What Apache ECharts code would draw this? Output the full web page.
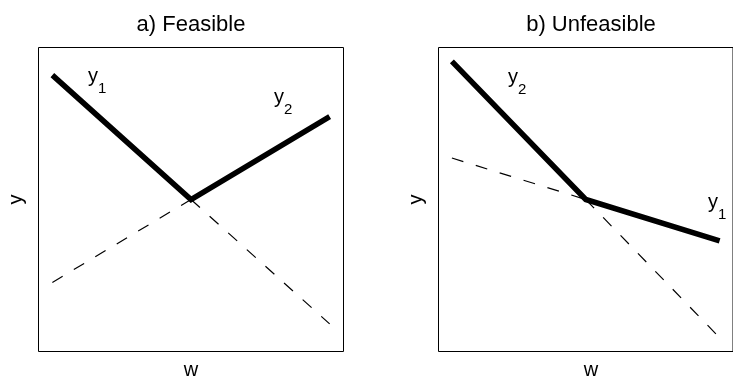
<!DOCTYPE html>
<html>
<head>
<meta charset="utf-8">
<script src="https://cdn.jsdelivr.net/npm/echarts@6/dist/echarts.min.js"></script>
<style>
  html, body { margin: 0; padding: 0; background: #fff; }
  #chart { width: 733px; height: 383px; }
</style>
</head>
<body>
<div id="chart"></div>
<script>
// ---- data ----
const w = [0, 5, 10];
const feasibleY1 = [9.5, 5, 0.5];
const feasibleY2 = [2, 5, 8];
const unfeasibleY1 = [6.5, 5, 3.5];
const unfeasibleY2 = [10, 5, 0];
const panelTitles = ['a) Feasible', 'b) Unfeasible'];
const xAxisLabel = 'w';
const yAxisLabel = 'y';

const FONT = "'Liberation Sans', Arial, Helvetica, sans-serif";
const chart = echarts.init(document.getElementById('chart'), null, { renderer: 'canvas' });

const grids = [
  { left: 38.5, top: 47.5, width: 305, height: 304 },
  { left: 438.5, top: 47.5, width: 305, height: 304 }
];

function panelSeries(idx, y1, y2) {
  const out = [];
  const upper = w.map((x, i) => [x, Math.max(y1[i], y2[i])]);
  out.push({
    type: 'line', xAxisIndex: idx, yAxisIndex: idx, data: upper,
    symbol: 'none', silent: true, animation: false,
    lineStyle: { color: '#000', width: 5.5, cap: 'butt', join: 'miter' }
  });
  for (let h = 0; h < w.length - 1; h++) {
    const lower = (y1[h] + y1[h + 1] < y2[h] + y2[h + 1]) ? y1 : y2;
    out.push({
      type: 'line', xAxisIndex: idx, yAxisIndex: idx,
      data: [[w[h], lower[h]], [w[h + 1], lower[h + 1]]],
      symbol: 'none', silent: true, animation: false,
      lineStyle: { color: '#000', width: 1.2, type: [12, 13] }
    });
  }
  return out;
}

function txt(text, x, y, size, opts) {
  return Object.assign({
    type: 'text', x: x, y: y, silent: true,
    style: {
      text: text, x: 0, y: 0, fill: '#000',
      font: size + 'px ' + FONT,
      align: 'left', verticalAlign: 'middle',
      textAlign: 'left', textVerticalAlign: 'middle'
    }
  }, opts || {});
}
function ctxt(text, x, y, size, rot) {
  const t = txt(text, x, y, size, rot ? { rotation: rot } : {});
  t.style.align = 'center'; t.style.textAlign = 'center';
  return t;
}

// subscript labels: [main, sub, left x, baseline y of main]
const subLabels = [
  ['y', '1', 88, 83.5],
  ['y', '2', 274, 104],
  ['y', '2', 508, 84],
  ['y', '1', 708, 209]
];
const graphics = [];
subLabels.forEach(function (l) {
  graphics.push(txt(l[0], l[2], l[3] - 7, 20));
  graphics.push(txt(l[1], l[2] + 10, l[3] + 11 - 5.3, 15));
});
[0, 1].forEach(function (i) {
  const cx = grids[i].left + grids[i].width / 2;
  graphics.push(ctxt(panelTitles[i], cx, 25, 22));
  graphics.push(ctxt(xAxisLabel, cx, 370, 20));
  graphics.push(ctxt(yAxisLabel, grids[i].left - 22, grids[i].top + grids[i].height / 2, 20, Math.PI / 2));
});

const option = {
  backgroundColor: '#fff',
  animation: false,
  grid: grids.map(g => Object.assign({ show: true, borderColor: '#000', borderWidth: 1, backgroundColor: 'transparent', containLabel: false }, g)),
  xAxis: [0, 1].map(i => ({
    type: 'value', gridIndex: i, min: -0.5, max: 10.5,
    axisLine: { show: false }, axisTick: { show: false }, axisLabel: { show: false }, splitLine: { show: false }
  })),
  yAxis: [0, 1].map(i => ({
    type: 'value', gridIndex: i, min: -0.5, max: 10.5,
    axisLine: { show: false }, axisTick: { show: false }, axisLabel: { show: false }, splitLine: { show: false }
  })),
  series: panelSeries(0, feasibleY1, feasibleY2).concat(panelSeries(1, unfeasibleY1, unfeasibleY2)),
  graphic: graphics
};
chart.setOption(option);
</script>
</body>
</html>
